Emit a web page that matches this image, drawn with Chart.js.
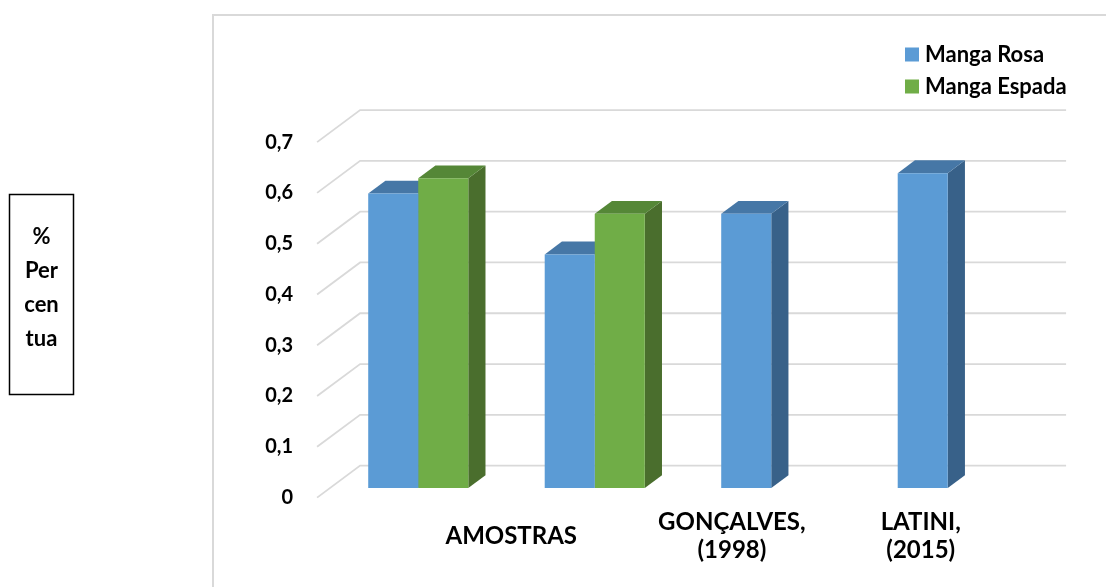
<!DOCTYPE html>
<html>
<head>
<meta charset="utf-8">
<title>Manga Rosa x Manga Espada</title>
<script src="https://cdn.jsdelivr.net/npm/chart.js@4/dist/chart.umd.min.js"></script>
<style>
  html, body { margin: 0; padding: 0; background: #ffffff; }
  #wrap { width: 1106px; height: 587px; }
</style>
</head>
<body>
<div id="wrap"><canvas id="chart" width="1106" height="587"></canvas></div>
<script>
// Categories of the bar groups and their values
const categories = ['AMOSTRAS', 'AMOSTRAS', 'GONÇALVES, (1998)', 'LATINI, (2015)'];
const mangaRosa = [0.58, 0.46, 0.54, 0.62];
const mangaEspada = [0.61, 0.54, null, null];

// Axis text
const axisLabels = [['AMOSTRAS'], ['GONÇALVES,', '(1998)'], ['LATINI,', '(2015)']];
const yTickValues = [0, 0.1, 0.2, 0.3, 0.4, 0.5, 0.6, 0.7];
const yTickLabels = ['0', '0,1', '0,2', '0,3', '0,4', '0,5', '0,6', '0,7'];
const yTitleLines = ['%', 'Per', 'cen', 'tua'];

const FONT = 'Lato, "Open Sans", sans-serif';

// Pseudo-3D look: the chart area is the front plane of the bars; the floor
// runs from depth 0 (front) to depth 1 (back wall), bars sit at 0.3 .. 0.7.
const threeD = {
  id: 'threeD',
  beforeDraw(chart, args, opts) {
    const ctx = chart.ctx;
    ctx.save();
    ctx.fillStyle = '#ffffff';
    ctx.fillRect(0, 0, chart.width, chart.height);
    // outer frame (left and top edges)
    ctx.strokeStyle = '#d9d9d9';
    ctx.lineWidth = 2;
    ctx.beginPath();
    ctx.moveTo(213, chart.height);
    ctx.lineTo(213, 15);
    ctx.lineTo(chart.width, 15);
    ctx.stroke();

    // y title box
    ctx.strokeStyle = '#000000';
    ctx.lineWidth = 1.5;
    ctx.strokeRect(9.5, 194.5, 64, 200);
    ctx.fillStyle = '#000000';
    ctx.font = 'bold 22px ' + FONT;
    ctx.textAlign = 'center';
    ctx.textBaseline = 'alphabetic';
    yTitleLines.forEach((t, i) => ctx.fillText(t, 41.5, 244 + i * 34));
    ctx.restore();
  },
  beforeDatasetsDraw(chart, args, opts) {
    const ctx = chart.ctx;
    const area = chart.chartArea;
    const y = chart.scales.y;
    const dx = opts.dx, dy = opts.dy, f0 = opts.front, f1 = opts.back;
    // grid: diagonal on the left side wall + horizontal on the back wall
    ctx.save();
    ctx.strokeStyle = '#d9d9d9';
    ctx.lineWidth = 1.8;
    yTickValues.forEach((v, i) => {
      const yb = y.getPixelForValue(v);
      const fx = area.left - f0 * dx, fy = yb - f0 * dy;
      const bx = area.left + (1 - f0) * dx, by = yb + (1 - f0) * dy;
      const ex = area.right + (1 - f0) * dx;
      ctx.beginPath();
      ctx.moveTo(fx, fy);
      ctx.lineTo(bx, by);
      ctx.lineTo(ex, by);
      ctx.stroke();
      ctx.fillStyle = '#000000';
      ctx.font = 'bold 20px ' + FONT;
      ctx.textAlign = 'right';
      ctx.textBaseline = 'middle';
      ctx.fillText(yTickLabels[i], fx - 24, fy);
    });

    // bar sides and tops; the library draws the front faces on top
    const bdx = (f1 - f0) * dx, bdy = (f1 - f0) * dy;
    chart.data.datasets.forEach((ds, di) => {
      const meta = chart.getDatasetMeta(di);
      meta.data.forEach((el, i) => {
        if (ds.data[i] === null || ds.data[i] === undefined) return;
        const p = el.getProps(['x', 'y', 'base', 'width'], true);
        const l = p.x - p.width / 2, r = p.x + p.width / 2;
        const top = p.y, base = p.base;
        // side face
        ctx.fillStyle = ds.sideColor;
        ctx.beginPath();
        ctx.moveTo(r, top);
        ctx.lineTo(r + bdx, top + bdy);
        ctx.lineTo(r + bdx, base + bdy);
        ctx.lineTo(r, base);
        ctx.closePath();
        ctx.fill();
        // top face
        ctx.fillStyle = ds.topColor;
        ctx.beginPath();
        ctx.moveTo(l, top);
        ctx.lineTo(r, top);
        ctx.lineTo(r + bdx, top + bdy);
        ctx.lineTo(l + bdx, top + bdy);
        ctx.closePath();
        ctx.fill();
      });
    });
    ctx.restore();
  },
  afterDraw(chart, args, opts) {
    const ctx = chart.ctx;
    const x = chart.scales.x;
    ctx.save();
    ctx.fillStyle = '#000000';
    // category labels along the front edge of the floor
    ctx.font = 'bold 24px ' + FONT;
    ctx.textAlign = 'center';
    ctx.textBaseline = 'middle';
    const step = x.getPixelForValue(1) - x.getPixelForValue(0);
    axisLabels.forEach((lines, k) => {
      const a = opts.labelAnchors[k];
      const px = x.getPixelForValue(0) + a * step - opts.front * opts.dx;
      const lh = 28;
      const cy = opts.labelCenterY;
      lines.forEach((t, j) => {
        ctx.fillText(t, px, cy + (j - (lines.length - 1) / 2) * lh);
      });
    });

    // legend
    ctx.font = 'bold 22px ' + FONT;
    ctx.textAlign = 'left';
    ctx.textBaseline = 'middle';
    chart.data.datasets.forEach((ds, i) => {
      const cy = 54.5 + i * 32;
      ctx.fillStyle = ds.backgroundColor;
      ctx.fillRect(905, cy - 7, 14, 14);
      ctx.fillStyle = '#000000';
      ctx.fillText(ds.label, 925, cy);
    });
    ctx.restore();
  }
};

new Chart(document.getElementById('chart'), {
  type: 'bar',
  data: {
    labels: categories,
    datasets: [
      {
        label: 'Manga Rosa',
        data: mangaRosa,
        backgroundColor: '#5b9bd5',
        topColor: '#4677a6',
        sideColor: '#386189',
        categoryPercentage: 0.567,
        barPercentage: 1.0
      },
      {
        label: 'Manga Espada',
        data: mangaEspada,
        backgroundColor: '#70ad47',
        topColor: '#558737',
        sideColor: '#4a6e2d',
        categoryPercentage: 0.567,
        barPercentage: 1.0
      }
    ]
  },
  options: {
    responsive: false,
    animation: false,
    events: [],
    layout: { padding: { left: 330, right: 70, top: 132.5, bottom: 99 } },
    scales: {
      x: { display: false },
      y: { display: false, min: 0, max: 0.7 }
    },
    plugins: {
      legend: { display: false },
      tooltip: { enabled: false },
      threeD: {
        dx: 43, dy: -32, front: 0.3, back: 0.7,
        labelAnchors: [0.6, 1.85, 2.92],
        labelCenterY: 536
      }
    }
  },
  plugins: [threeD]
});
</script>
</body>
</html>
